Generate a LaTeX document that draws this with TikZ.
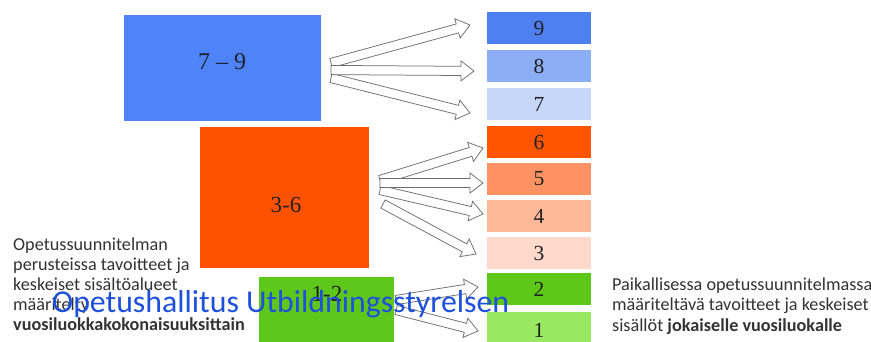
\documentclass[tikz,border=0pt]{standalone}
\usepackage{fontspec}
\setmainfont{Liberation Serif}
\newfontfamily\carl{Carlito}
\usetikzlibrary{calc}
\definecolor{bigblue}{HTML}{4F83F8}
\definecolor{bigorange}{HTML}{FF5200}
\definecolor{biggreen}{HTML}{5EC81A}
\definecolor{c9}{HTML}{4F80F2}
\definecolor{c8}{HTML}{8CAEF5}
\definecolor{c7}{HTML}{C7D7FA}
\definecolor{c6}{HTML}{FF5500}
\definecolor{c5}{HTML}{FF9263}
\definecolor{c4}{HTML}{FFB898}
\definecolor{c3}{HTML}{FFDACC}
\definecolor{c2}{HTML}{5EC818}
\definecolor{c1}{HTML}{98E862}
\definecolor{txt}{HTML}{333333}
\definecolor{lbl}{HTML}{222222}
\definecolor{navy}{HTML}{1C2333}
\definecolor{ovl}{HTML}{1E50DC}
\definecolor{arrline}{HTML}{6E6E6E}
\newcommand\blockarrow[2]{%
  \draw[barrow] let \p1=(#1), \p2=(#2),
    \n1={atan2(\y2-\y1,\x2-\x1)},
    \n2={veclen(\x2-\x1,\y2-\y1)-13} in
    ($(\p1)+(\n1+90:4.6pt)$) --
    ($(\p1)+(\n1:\n2)+(\n1+90:4.6pt)$) --
    ($(\p1)+(\n1:\n2)+(\n1+90:10pt)$) --
    (\p2) --
    ($(\p1)+(\n1:\n2)+(\n1-90:10pt)$) --
    ($(\p1)+(\n1:\n2)+(\n1-90:4.6pt)$) --
    ($(\p1)+(\n1-90:4.6pt)$) -- cycle;}
\begin{document}
\begin{tikzpicture}[x=1pt,y=-1pt,
  bigbox/.style={draw=none,inner sep=0pt,outer sep=0pt,anchor=north west,text=lbl},
  rowbox/.style={draw=none,inner sep=0pt,outer sep=0pt,anchor=north west,
    minimum width=104pt,minimum height=32pt,text=lbl,
    font=\fontsize{21.5}{21.5}\selectfont},
  barrow/.style={draw=arrline,fill=white,line width=0.75pt,line join=miter},
  sidetext/.style={anchor=base west,inner sep=0pt,text=txt,
    font=\carl\fontsize{18.2}{20}\selectfont}]
\useasboundingbox (0,0) rectangle (871,341);
\fill[white] (0,0) rectangle (871,341);
% big boxes
\node[bigbox,fill=bigblue,minimum width=197pt,minimum height=106pt] (b79) at (124,15) {};
\node[bigbox,fill=bigorange,minimum width=169pt,minimum height=141pt] (b36) at (200,127) {};
\node[bigbox,fill=biggreen,minimum width=135pt,minimum height=70pt] (b12) at (259,277) {};
\node[font=\fontsize{24}{24}\selectfont,text=navy] (l79) at (222,62) {7 – 9};
\node[font=\fontsize{23}{23}\selectfont,text=lbl] (l36) at (286,205) {3-6};
\node[font=\fontsize{23}{23}\selectfont,text=lbl] (l12) at (327,294) {1-2};
% rows
\node[rowbox,fill=c9] (r9) at (487,12) {9};
\node[rowbox,fill=c8] (r8) at (487,50) {8};
\node[rowbox,fill=c7] (r7) at (487,88) {7};
\node[rowbox,fill=c6] (r6) at (487,126) {6};
\node[rowbox,fill=c5] (r5) at (487,163) {5};
\node[rowbox,fill=c4] (r4) at (487,200) {4};
\node[rowbox,fill=c3] (r3) at (487,237) {3};
\node[rowbox,fill=c2] (r2) at (487,273) {2};
\node[rowbox,fill=c1,minimum height=36pt] (r1) at (487,312) {1};
% arrow end points
\coordinate (s9) at (331,63);
\coordinate (s8) at (331,70);
\coordinate (s7) at (331,78);
\coordinate (e9) at (470,25);
\coordinate (e8) at (474,71);
\coordinate (e7) at (470,113);
\coordinate (s6) at (380,180);
\coordinate (s5) at (380,183);
\coordinate (s4) at (380,190);
\coordinate (s3) at (383,204);
\coordinate (e6) at (483,148);
\coordinate (e5) at (483,183);
\coordinate (e4) at (483,214);
\coordinate (e3) at (476,254);
\coordinate (s2) at (396,300);
\coordinate (s1) at (396,310);
\coordinate (e2) at (478,287);
\coordinate (e1) at (478,331);
\blockarrow{s9}{e9}
\blockarrow{s7}{e7}
\blockarrow{s8}{e8}
\blockarrow{s3}{e3}
\blockarrow{s4}{e4}
\blockarrow{s6}{e6}
\blockarrow{s5}{e5}
\blockarrow{s1}{e1}
\blockarrow{s2}{e2}
% left text
\node[sidetext] (t1) at (13,250) {Opetussuunnitelman};
\node[sidetext] (t2) at (13,270) {perusteissa tavoitteet ja};
\node[sidetext] (t3) at (13,290) {keskeiset sisältöalueet};
\node[sidetext] (t4) at (13,310) {määritelty};
\node[sidetext] (t5) at (13,330) {\bfseries vuosiluokkakokonaisuuksittain};
% right text
\node[sidetext] (u1) at (612,290) {Paikallisessa opetussuunnitelmassa};
\node[sidetext] (u2) at (612,310) {määriteltävä tavoitteet ja keskeiset};
\node[sidetext] (u3) at (612,331) {sisällöt \bfseries jokaiselle vuosiluokalle};
% overlay
\node[anchor=base west,inner sep=0pt,text=ovl,
  font=\carl\fontsize{31.8}{31.8}\selectfont] (ov) at (52,312)
  {Opetushallitus Utbildningsstyrelsen};
\end{tikzpicture}
\end{document}
